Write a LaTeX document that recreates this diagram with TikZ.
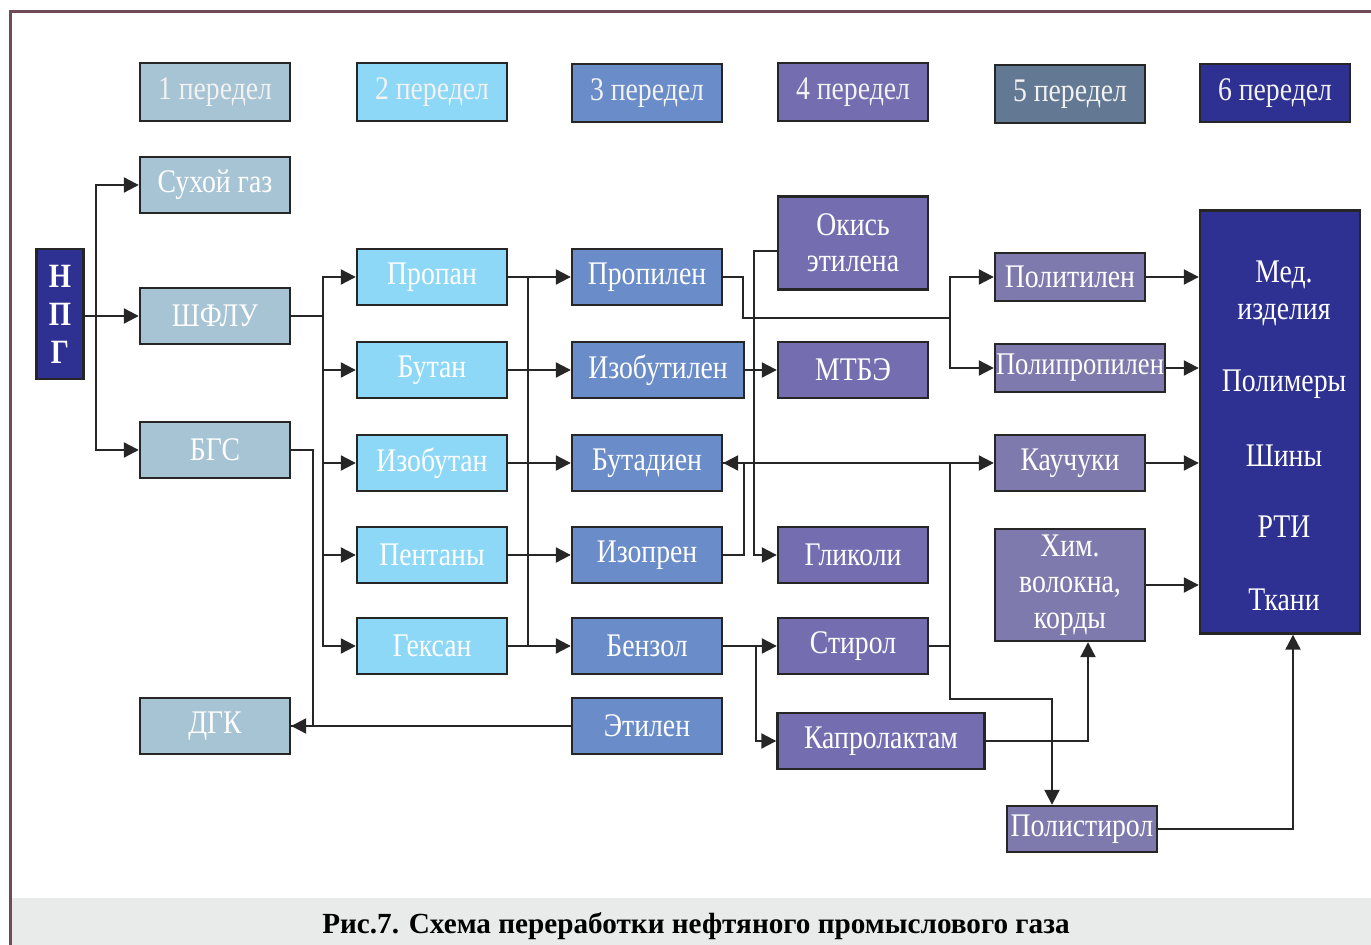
\documentclass[tikz,border=0pt]{standalone}
\usepackage{fontspec}
\setmainfont{Liberation Serif}[FakeStretch=0.84]
\newfontfamily\captionfont{Liberation Serif}
\usepackage{tikz}
\usepackage{xcolor}
\definecolor{stageonecolor}{HTML}{A6C4D4}
\definecolor{stagetwocolor}{HTML}{8ED8F7}
\definecolor{stagethreecolor}{HTML}{6A8CC8}
\definecolor{stagefourcolor}{HTML}{746EB1}
\definecolor{stagefivecolor}{HTML}{637892}
\definecolor{stagesixcolor}{HTML}{2E3192}
\definecolor{productcolor}{HTML}{7F7AAD}
\definecolor{framecolor}{HTML}{6F4A57}
\definecolor{captionfill}{HTML}{E9EBEA}
\colorlet{linkcolor}{black!85}
\usetikzlibrary{
  arrows.meta,
}
\tikzstyle{basicblock}=[draw=black!85, line width=1.2pt, rectangle, minimum height=28pt, minimum width=75pt, inner sep=1pt, text=white, font=\fontsize{16.5}{18}\selectfont, align=center]
\tikzstyle{stageone}=[basicblock, fill=stageonecolor]
\tikzstyle{stagetwo}=[basicblock, fill=stagetwocolor]
\tikzstyle{stagethree}=[basicblock, fill=stagethreecolor]
\tikzstyle{stagefour}=[basicblock, fill=stagefourcolor]
\tikzstyle{stagefive}=[basicblock, fill=stagefivecolor]
\tikzstyle{stagesix}=[basicblock, fill=stagesixcolor]
\tikzstyle{productblock}=[basicblock, fill=productcolor]
\tikzstyle{headerblock}=[minimum height=29pt, text=white!90!gray]
\tikzstyle{bigtext}=[text=white, font=\fontsize{16.5}{18.5}\selectfont, align=center]
\tikzstyle{plainlink}=[draw=linkcolor, line width=1.1pt]
\tikzstyle{link}=[plainlink, -{Triangle[length=7.5pt,width=7.5pt]}]
\tikzstyle{bothlink}=[plainlink, {Triangle[length=7.5pt,width=7.5pt]}-{Triangle[length=7.5pt,width=7.5pt]}]

\begin{document}
\begin{tikzpicture}[x=0.5pt, y=-0.5pt]
	\useasboundingbox (0,0) rectangle (1371,945);
	\fill [captionfill] (10,898) rectangle (1371,945);
	\draw [framecolor, line width=1.5pt] (1371,12) -- (10,12) -- (10,945);
	\node (caption) at (696,926) {\captionfont\bfseries\fontsize{14.6}{16}\selectfont Рис.7. Схема переработки нефтяного промыслового газа};
	% stages
	\node (stage1) [stageone, headerblock] at (215,92) {1 передел};
	\path (stage1) + (217,0) node (stage2) [stagetwo, headerblock] {2 передел};
	\path (stage1) + (432,1) node (stage3) [stagethree, headerblock] {3 передел};
	\path (stage1) + (638,0) node (stage4) [stagefour, headerblock] {4 передел};
	\path (stage1) + (855,2) node (stage5) [stagefive, headerblock] {5 передел};
	\path (stage1) + (1060,1) node (stage6) [stagesix, headerblock] {6 передел};
	% stage 1
	\path (stage1) + (0,93) node (dryGas) [stageone] {Сухой газ};
	\path (stage1) + (0,224) node (shflu) [stageone] {ШФЛУ};
	\path (stage1) + (0,358) node (bgs) [stageone] {БГС};
	\path (stage1) + (0,634) node (dgk) [stageone] {ДГК};
	\path (shflu) + (-155,-2) node (npg) [stagesix, minimum width=23.5pt, minimum height=65pt, font=\bfseries\fontsize{17}{19}\selectfont] {Н\\П\\Г};
	% stage 2
	\path (stage2) + (0,185) node (propan) [stagetwo] {Пропан};
	\path (stage2) + (0,278) node (butan) [stagetwo] {Бутан};
	\path (stage2) + (0,371) node (izobutan) [stagetwo] {Изобутан};
	\path (stage2) + (0,463) node (pentany) [stagetwo] {Пентаны};
	\path (stage2) + (0,554) node (geksan) [stagetwo] {Гексан};
	% stage 3
	\path (stage3) + (0,184) node (propilen) [stagethree] {Пропилен};
	\path (stage3) + (11,277) node (izobutilen) [stagethree, minimum width=86pt] {Изобутилен};
	\path (stage3) + (0,370) node (butadien) [stagethree] {Бутадиен};
	\path (stage3) + (0,462) node (izopren) [stagethree] {Изопрен};
	\path (stage3) + (0,553) node (benzol) [stagethree] {Бензол};
	\path (stage3) + (0,633) node (etilen) [stagethree] {Этилен};
	% stage 4
	\path (stage4) + (0,151) node (okis) [stagefour, minimum height=46.5pt] {Окись\\этилена};
	\path (stage4) + (0,278) node (mtbe) [stagefour] {МТБЭ};
	\path (stage4) + (0,463) node (glikoli) [stagefour] {Гликоли};
	\path (stage4) + (0,554) node (stirol) [stagefour] {Стирол};
	\path (stage4) + (28,649) node (kaprolaktam) [stagefour, minimum width=103.5pt] {Капролактам};
	% stage 5
	\path (stage5) + (0,183) node (politilen) [productblock, minimum height=24pt] {Политилен};
	\path (stage5) + (10,274) node (polipropilen) [productblock, minimum height=24pt, minimum width=85pt, inner sep=0pt, font=\fontsize{15.8}{18}\selectfont] {Полипропилен};
	\path (stage5) + (0,369) node (kauchuki) [productblock] {Каучуки};
	\path (stage5) + (0,491) node (khim) [productblock, minimum height=56pt] {Хим.\\волокна,\\корды};
	\path (stage5) + (12,735) node (polistirol) [productblock, minimum height=23pt] {Полистирол};
	% stage 6
	\path (stage6) + (5,329) node (big) [stagesix, minimum width=80pt, minimum height=211.5pt] {};
	\path (big) + (4,-129) node (medText) [bigtext] {Мед.\\изделия};
	\path (big) + (4,-38) node (polymerText) [bigtext] {Полимеры};
	\path (big) + (4,34) node (tyreText) [bigtext] {Шины};
	\path (big) + (4,105) node (rtiText) [bigtext] {РТИ};
	\path (big) + (4,178) node (clothText) [bigtext] {Ткани};
	% links
	\draw [link] (npg.east |- shflu) -- (shflu);
	\draw [link] (npg.east |- shflu) ++(11,0) |- (dryGas);
	\draw [link] (npg.east |- shflu) ++(11,0) |- (bgs);
	\foreach \n in {propan, butan, izobutan, pentany, geksan}
		\draw [link] (shflu.east) -- ++(32,0) |- (\n);
	\foreach \a/\b in {propan/propilen, butan/izobutilen, izobutan/butadien, pentany/izopren, geksan/benzol}
		\draw [link] (\a) -- (\b);
	\draw [plainlink] (propan.east) ++(20,0) |- (geksan.east);
	\coordinate (polyFork) at (950,318);
	\draw [link] (propilen.east) -- ++(20,0) |- (polyFork) |- (politilen);
	\draw [link] (polyFork) |- (polipropilen);
	\draw [link] (okis.west) ++(0,8) -- ++(-23,0) |- (glikoli);
	\draw [link] (izobutilen) -- (mtbe);
	\draw [bothlink] (butadien) -- (kauchuki);
	\draw [plainlink] (izopren.east) -- ++(21,0) |- (butadien.east);
	\coordinate (rubberFork) at (950,463);
	\coordinate (styreneBend) at (1052,699);
	\draw [plainlink] (stirol.east) -| (rubberFork);
	\draw [link] (rubberFork) |- (styreneBend) -- (styreneBend |- polistirol.north);
	\draw [link] (benzol) -- (stirol);
	\draw [link] (benzol.east) -- ++(33,0) |- (kaprolaktam);
	\draw [link] (kaprolaktam.east) -| ([xshift=9pt]khim.south);
	\foreach \n in {politilen, polipropilen, kauchuki, khim}
		\draw [link] (\n.east) -- (\n.east -| big.west);
	\draw [link] (polistirol.east) -| ([xshift=6.5pt]big.south);
	\draw [link] (etilen) -- (etilen -| dgk.east);
	\draw [plainlink] (bgs.east) -- ++(22,0) |- (dgk.east);
\end{tikzpicture}
\end{document}
